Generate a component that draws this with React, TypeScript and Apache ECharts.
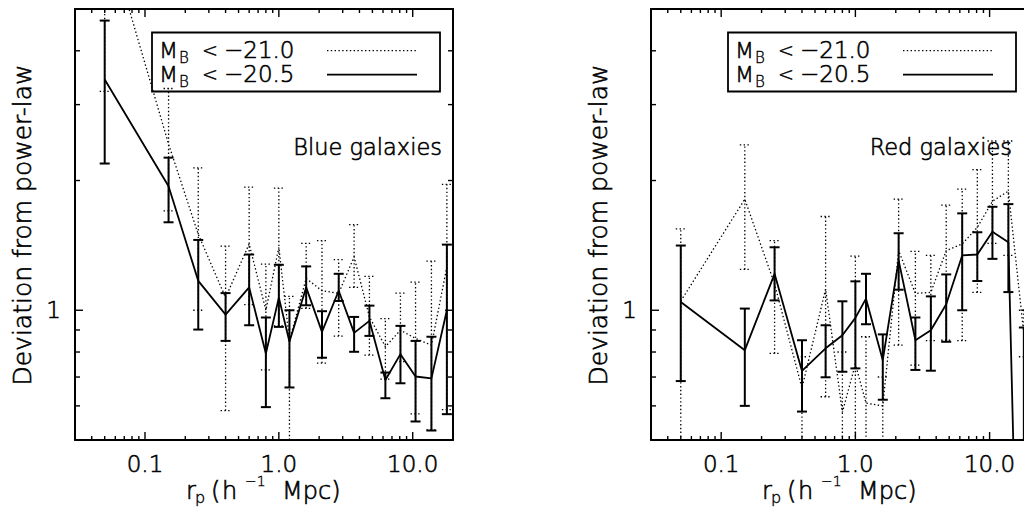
import React, { useEffect, useRef } from "react";
import * as echarts from "echarts";

// projected separation bins (h^-1 Mpc)
const rp = [0.05, 0.15, 0.25, 0.4, 0.6, 0.8, 1.0, 1.2, 1.6, 2.1, 2.8, 3.65, 4.75, 6.25, 8.1, 10.5, 13.8, 18.0];

// Blue galaxies, M_B < -20.5 (solid)
const blue205 = [3.43, 1.94, 1.17, 0.977, 1.13, 0.794, 1.07, 0.845, 1.13, 0.891, 1.11, 0.886, 0.945, 0.689, 0.791, 0.702, 0.695, 1.0];
const blue205Lo = [2.19, 1.6, 0.902, 0.849, 0.923, 0.596, 0.915, 0.662, 1.027, 0.776, 1.051, 0.801, 0.872, 0.625, 0.677, 0.552, 0.526, 0.574];
const blue205Hi = [4.7, 2.26, 1.456, 1.096, 1.347, 0.962, 1.275, 1.0, 1.264, 0.995, 1.215, 0.965, 1.025, 0.717, 0.92, 0.849, 0.868, 1.42];

// Blue galaxies, M_B < -21.0 (dotted)
const blue210 = [7.8, 2.43, 1.5, 1.07, 1.425, 1.0, 1.4, 0.85, 1.185, 1.11, 1.095, 1.33, 0.965, 0.823, 0.899, 0.86, 0.83, 1.26];
const blue210Lo = [3.22, 1.7, 1.0, 0.585, 1.03, 0.727, 0.92, 0.4, 1.01, 0.754, 0.871, 1.13, 0.787, 0.692, 0.76, 0.575, 0.528, 0.588];
const blue210Hi = [12.0, 3.27, 2.14, 1.408, 1.93, 1.28, 1.92, 1.077, 1.43, 1.45, 1.31, 1.58, 1.198, 0.956, 1.096, 1.162, 1.3, 1.96];

// Red galaxies, M_B < -20.5 (solid)
const red205 = [1.045, 0.808, 1.215, 0.723, 0.816, 0.875, 0.96, 1.064, 0.766, 1.305, 0.852, 0.899, 1.033, 1.34, 1.347, 1.522, 1.438, 0.05];
const red205Lo = [0.685, 0.6, 1.054, 0.582, 0.699, 0.72, 0.733, 0.928, 0.62, 1.116, 0.727, 0.724, 0.845, 1.0, 1.169, 1.316, 1.102, 0.01];
const red205Hi = [1.413, 1.009, 1.4, 0.852, 0.923, 1.049, 1.167, 1.215, 0.879, 1.509, 0.962, 1.077, 1.211, 1.678, 1.517, 1.738, 1.763, 0.912];

// Red galaxies, M_B < -21.0 (dotted)
const red210 = [1.05, 1.81, 1.15, 0.66, 1.12, 0.58, 0.75, 0.609, 0.6, 1.375, 1.094, 1.1, 1.375, 1.425, 1.557, 1.79, 1.89, 0.88];
const red210Lo = [0.3, 1.244, 0.794, 0.3, 0.63, 0.3, 0.3, 0.3, 0.3, 0.83, 0.746, 0.85, 0.852, 0.85, 1.1, 1.43, 1.34, 0.78];
const red210Hi = [1.544, 2.42, 1.45, 0.78, 1.65, 0.8, 1.335, 0.868, 0.7, 1.81, 1.37, 1.34, 1.754, 1.91, 2.12, 2.47, 2.47, 1.0];

// axes
const xMin = 0.03;
const xMax = 20;
const yMin = 0.5;
const yMax = 5;
const xMajorTicks = [0.1, 1, 10];
const xTickLabels = ["0.1", "1.0", "10.0"];
const xMinorTicks = [0.04, 0.05, 0.06, 0.07, 0.08, 0.09, 0.2, 0.3, 0.4, 0.5, 0.6, 0.7, 0.8, 0.9, 2, 3, 4, 5, 6, 7, 8, 9];
const yMajorTicks = [1];
const yTickLabels = ["1"];
const yMinorTicks = [0.6, 0.7, 0.8, 0.9, 2, 3, 4];

const legendLabels = ["21.0", "20.5"];
const panelNames = ["Blue galaxies", "Red galaxies"];
const yTitle = "Deviation from power-law";

const FONT = "DejaVu Sans";
const FW = 200;
const TB = 0.6; // outline added to the thin face

function matchIdx(list: number[], v: number) {
  return list.findIndex((t) => Math.abs(t - v) / t < 1e-6);
}

function errRender(dotted: boolean) {
  return (params: any, api: any) => {
    const x = api.value(0);
    const lo = api.value(2);
    const hi = api.value(3);
    const pLo = api.coord([x, lo]);
    const pHi = api.coord([x, hi]);
    const w = 5;
    const style: any = dotted
      ? { stroke: "#000", lineWidth: 1.3, lineDash: [1.4, 2.4], fill: null }
      : { stroke: "#000", lineWidth: 2, fill: null };
    return {
      type: "group",
      children: [
        { type: "line", shape: { x1: pLo[0], y1: pLo[1], x2: pHi[0], y2: pHi[1] }, style },
        { type: "line", shape: { x1: pLo[0] - w, y1: pLo[1], x2: pLo[0] + w, y2: pLo[1] }, style },
        { type: "line", shape: { x1: pHi[0] - w, y1: pHi[1], x2: pHi[0] + w, y2: pHi[1] }, style },
      ],
    };
  };
}

function xTickRender(params: any, api: any) {
  const v = api.value(0);
  const cs = params.coordSys;
  const len = matchIdx(xMajorTicks, v) >= 0 ? 8 : 4;
  const x = api.coord([v, 1])[0];
  const style = { stroke: "#000", lineWidth: 1.4 };
  const b = cs.y + cs.height;
  return {
    type: "group",
    children: [
      { type: "line", shape: { x1: x, y1: b, x2: x, y2: b - len }, style },
      { type: "line", shape: { x1: x, y1: cs.y, x2: x, y2: cs.y + len }, style },
    ],
  };
}

function yTickRender(params: any, api: any) {
  const v = api.value(1);
  const cs = params.coordSys;
  const len = matchIdx(yMajorTicks, v) >= 0 ? 8 : 5;
  const y = api.coord([1, v])[1];
  const style = { stroke: "#000", lineWidth: 1.4 };
  const r = cs.x + cs.width;
  return {
    type: "group",
    children: [
      { type: "line", shape: { x1: cs.x, y1: y, x2: cs.x + len, y2: y }, style },
      { type: "line", shape: { x1: r, y1: y, x2: r - len, y2: y }, style },
    ],
  };
}

export default function App() {
  const ref = useRef<HTMLDivElement>(null);

  useEffect(() => {
    if (!ref.current) return;
    const chart = echarts.init(ref.current, null, { renderer: "svg" });

    const panels = [
      { gx: 75, gw: 378, solid: [blue205, blue205Lo, blue205Hi], dotted: [blue210, blue210Lo, blue210Hi], nameRight: 367 },
      { gx: 651, gw: 379, solid: [red205, red205Lo, red205Hi], dotted: [red210, red210Lo, red210Hi], nameRight: 361 },
    ];

    const grids: any[] = [];
    const xAxes: any[] = [];
    const yAxes: any[] = [];
    const series: any[] = [];
    const graphics: any[] = [];

    const axisLine = { show: true, onZero: false, lineStyle: { color: "#000", width: 2 } };
    const labelFont = {
      color: "#000", fontSize: 23, fontFamily: FONT, fontWeight: FW,
      textBorderColor: "#000", textBorderWidth: TB,
    };

    panels.forEach((p, i) => {
      grids.push({ left: p.gx, top: 9, width: p.gw, height: 431 });
      const xb = i * 2;
      const yb = i * 2;
      xAxes.push({
        type: "log", logBase: 10, gridIndex: i, position: "bottom", min: xMin, max: xMax,
        axisLine, axisTick: { show: false }, splitLine: { show: false },
        axisLabel: {
          show: true, margin: 12, ...labelFont,
          showMinLabel: false, showMaxLabel: false,
          formatter: (v: number) => { const k = matchIdx(xMajorTicks, v); return k >= 0 ? xTickLabels[k] : ""; },
        },
      });
      xAxes.push({
        type: "log", logBase: 10, gridIndex: i, position: "top", min: xMin, max: xMax,
        axisLine, axisTick: { show: false }, splitLine: { show: false }, axisLabel: { show: false },
      });
      yAxes.push({
        type: "log", logBase: 10, gridIndex: i, position: "left", min: yMin, max: yMax,
        axisLine, axisTick: { show: false }, splitLine: { show: false },
        axisLabel: {
          show: true, margin: 14, ...labelFont,
          showMinLabel: false, showMaxLabel: false,
          formatter: (v: number) => { const k = matchIdx(yMajorTicks, v); return k >= 0 ? yTickLabels[k] : ""; },
        },
      });
      yAxes.push({
        type: "log", logBase: 10, gridIndex: i, position: "right", min: yMin, max: yMax,
        axisLine, axisTick: { show: false }, splitLine: { show: false }, axisLabel: { show: false },
      });

      const [sv, slo, shi] = p.solid;
      const [dv, dlo, dhi] = p.dotted;

      series.push({
        type: "line", xAxisIndex: xb, yAxisIndex: yb, symbol: "none", clip: true,
        data: rp.map((x, k) => [x, dv[k]]),
        lineStyle: { color: "#000", width: 1.3, type: [1.4, 2.4] },
      });
      series.push({
        type: "custom", xAxisIndex: xb, yAxisIndex: yb, clip: true,
        data: rp.map((x, k) => [x, dv[k], dlo[k], dhi[k]]),
        encode: { x: 0, y: 1 },
        renderItem: errRender(true),
      });
      series.push({
        type: "line", xAxisIndex: xb, yAxisIndex: yb, symbol: "none", clip: true,
        data: rp.map((x, k) => [x, sv[k]]),
        lineStyle: { color: "#000", width: 1.8, type: "solid" },
      });
      series.push({
        type: "custom", xAxisIndex: xb, yAxisIndex: yb, clip: true,
        data: rp.map((x, k) => [x, sv[k], slo[k], shi[k]]),
        encode: { x: 0, y: 1 },
        renderItem: errRender(false),
      });
      series.push({
        type: "custom", xAxisIndex: xb, yAxisIndex: yb,
        data: [...xMajorTicks, ...xMinorTicks].map((v) => [v, 1]),
        encode: { x: 0, y: 1 },
        renderItem: xTickRender,
      });
      series.push({
        type: "custom", xAxisIndex: xb, yAxisIndex: yb,
        data: [...yMajorTicks, ...yMinorTicks].map((v) => [1, v]),
        encode: { x: 0, y: 1 },
        renderItem: yTickRender,
      });

      const gx = p.gx;
      const txt = (x: number, y: number, text: string, size: number, align = "left") => ({
        type: "text", x, y,
        style: {
          text, fontSize: size, fontFamily: FONT, fontWeight: FW, fill: "#000",
          stroke: "#000", lineWidth: TB * (size / 23),
          textAlign: align, textVerticalAlign: "middle",
        },
      });

      // legend box
      graphics.push({
        type: "rect", shape: { x: gx + 77, y: 32.5, width: 288, height: 59 },
        style: { fill: "none", stroke: "#000", lineWidth: 1.8 },
      });
      const rows = [50, 74];
      rows.forEach((ry, r) => {
        graphics.push(txt(gx + 84, ry, "M", 22));
        graphics.push(txt(gx + 104, ry + 7.5, "B", 15));
        graphics.push(txt(gx + 127, ry, "<", 19));
        graphics.push(txt(gx + 149, ry, "\u2212" + legendLabels[r], 23));
        graphics.push({
          type: "line",
          shape: { x1: gx + 252, y1: ry + 0.7, x2: gx + 342, y2: ry + 0.7 },
          style: r === 0
            ? { stroke: "#000", lineWidth: 1.3, lineDash: [1.4, 2.4] }
            : { stroke: "#000", lineWidth: 1.8 },
        });
      });

      // panel name
      graphics.push(txt(gx + p.nameRight, 147, panelNames[i], 22.5, "right"));

      // y title
      graphics.push({
        type: "text", x: gx - 53, y: 225, rotation: Math.PI / 2,
        style: {
          text: yTitle, fontSize: 25, fontFamily: FONT, fontWeight: FW, fill: "#000",
          stroke: "#000", lineWidth: TB,
          textAlign: "center", textVerticalAlign: "middle",
        },
      });

      // x title: r_p (h^-1 Mpc)
      graphics.push(txt(gx + 111, 491, "r", 24));
      graphics.push(txt(gx + 120, 497, "p", 16));
      graphics.push(txt(gx + 136, 491, "(", 24));
      graphics.push(txt(gx + 147, 491, "h", 24));
      graphics.push(txt(gx + 170, 481, "\u22121", 14));
      graphics.push(txt(gx + 207, 491, "Mpc)", 24));
    });

    chart.setOption({
      animation: false,
      backgroundColor: "#fff",
      textStyle: { fontFamily: FONT },
      grid: grids,
      xAxis: xAxes,
      yAxis: yAxes,
      series,
      graphic: { elements: graphics },
    });

    return () => chart.dispose();
  }, []);

  return (
    <div style={{ position: "fixed", left: 0, top: 0, width: 1024, height: 519, overflow: "hidden", background: "#fff" }}>
      <div ref={ref} style={{ width: 1040, height: 519 }} />
    </div>
  );
}
